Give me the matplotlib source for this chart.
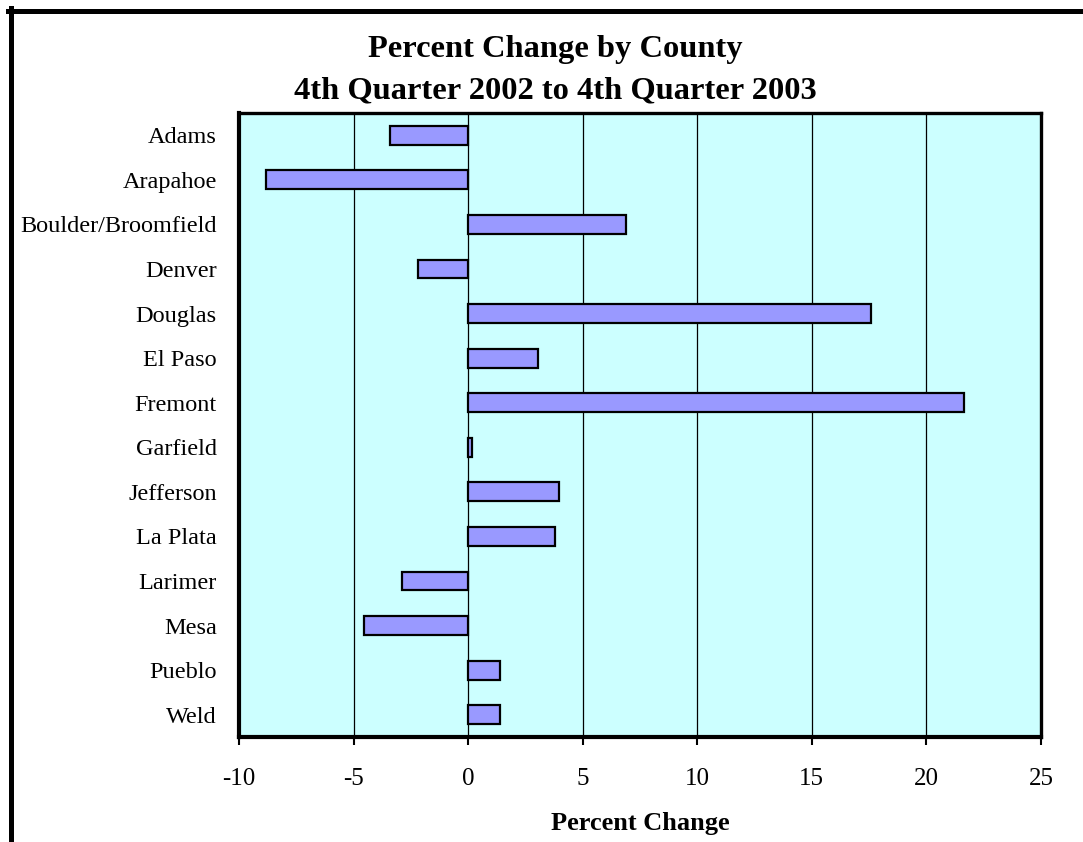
import numpy as np
import matplotlib
matplotlib.use("Agg")
import matplotlib.pyplot as plt
from matplotlib.lines import Line2D

plt.rcParams["font.family"] = ["Liberation Serif", "DejaVu Serif"]

# data
counties = ["Adams", "Arapahoe", "Boulder/Broomfield", "Denver", "Douglas",
            "El Paso", "Fremont", "Garfield", "Jefferson", "La Plata",
            "Larimer", "Mesa", "Pueblo", "Weld"]
pct_change = [-3.4, -8.8, 6.9, -2.2, 17.6, 3.05, 21.65, 0.17, 3.95, 3.8,
              -2.9, -4.55, 1.4, 1.4]
x_ticks = [-10, -5, 0, 5, 10, 15, 20, 25]

W, H = 1083, 842
fig = plt.figure(figsize=(W / 100, H / 100), dpi=100)
fig.patch.set_facecolor("white")

ax = fig.add_axes([239 / W, 1 - 737 / H, 802 / W, 624 / H])
ax.set_facecolor("#CCFFFF")

ypos = np.arange(len(counties))
ax.barh(ypos, pct_change, height=0.42, color="#9999FF",
        edgecolor="black", linewidth=1.6, zorder=3)

ax.set_xlim(x_ticks[0], x_ticks[-1])
ax.set_ylim(len(counties) - 0.5, -0.5)
ax.set_xticks(x_ticks)
ax.set_xticklabels([str(t) for t in x_ticks])
ax.set_yticks(ypos)
ax.set_yticklabels(counties)

for t in x_ticks[1:-1]:
    ax.axvline(t, color="black", lw=0.9, zorder=1)

for s in ax.spines.values():
    s.set_linewidth(2.4)
    s.set_color("black")
ax.spines["left"].set_linewidth(3)
ax.spines["bottom"].set_linewidth(3)

ax.tick_params(axis="x", direction="out", length=6, width=1.5,
               labelsize=18, pad=16)
ax.tick_params(axis="y", length=0, labelsize=17.5, pad=16)

ax.set_xlabel("Percent Change", fontsize=19, fontweight="bold", labelpad=16)

fig.text(555 / W, 1 - 57 / H, "Percent Change by County", ha="center",
         va="baseline", fontsize=23.4, fontweight="bold")
fig.text(555 / W, 1 - 98 / H, "4th Quarter 2002 to 4th Quarter 2003",
         ha="center", va="baseline", fontsize=23.4, fontweight="bold")

# outer chart frame (top and left edges visible)
fig.add_artist(Line2D([8 / W, 1.0], [1 - 10.8 / H, 1 - 10.8 / H],
                      color="black", lw=3.6, transform=fig.transFigure))
fig.add_artist(Line2D([10.8 / W, 10.8 / W], [0.0, 1 - 8 / H],
                      color="black", lw=3.6, transform=fig.transFigure))

fig.savefig("out.png", dpi=100)
